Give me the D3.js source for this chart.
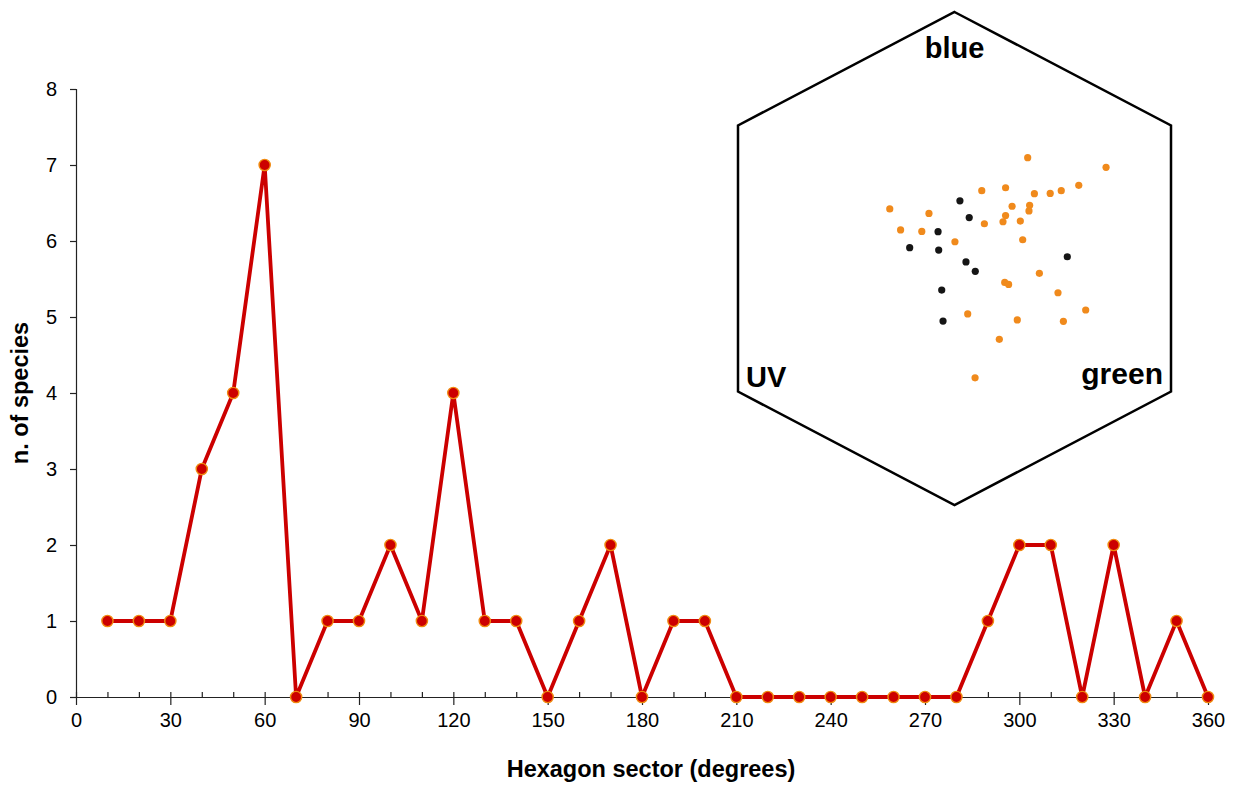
<!DOCTYPE html>
<html><head><meta charset="utf-8">
<script src="https://cdn.jsdelivr.net/npm/d3@7"></script>
<style>html,body{margin:0;padding:0;background:#fff;}svg{display:block;font-family:"Liberation Sans",Arial,sans-serif;}</style>
</head><body>
<svg id="c" width="1234" height="785"></svg>
<script>
// ---- data ----
const sectors = [10,20,30,40,50,60,70,80,90,100,110,120,130,140,150,160,170,180,190,200,210,220,230,240,250,260,270,280,290,300,310,320,330,340,350,360];
const species = [1,1,1,3,4,7,0,1,1,2,1,4,1,1,0,1,2,0,1,1,0,0,0,0,0,0,0,0,1,2,2,0,2,0,1,0];
const xTicks = [0,30,60,90,120,150,180,210,240,270,300,330,360];
const yTicks = [0,1,2,3,4,5,6,7,8];
const xTitle = "Hexagon sector (degrees)";
const yTitle = "n. of species";
// colour hexagon inset (hexagon units)
const hexVertices = [[0,1],[1,0.54],[1,-0.54],[0,-1],[-1,-0.54],[-1,0.54]];
const hexLabels = ["blue","UV","green"];
const orangeX = [0.338,0.700,0.126,0.236,0.369,0.442,0.493,0.574,-0.299,-0.118,0.266,0.347,0.344,0.236,0.224,0.304,0.138,-0.249,-0.151,0.002,0.315,0.392,0.232,0.250,0.478,0.606,0.061,0.290,0.503,0.207,0.095];
const orangeY = [0.409,0.370,0.275,0.287,0.263,0.264,0.275,0.297,0.201,0.183,0.212,0.216,0.193,0.174,0.149,0.152,0.141,0.116,0.110,0.068,0.076,-0.060,-0.097,-0.105,-0.139,-0.209,-0.225,-0.249,-0.255,-0.328,-0.484];
const blackX = [0.025,0.068,-0.076,-0.207,-0.073,0.053,0.096,0.521,-0.059,-0.053];
const blackY = [0.234,0.166,0.109,0.044,0.034,-0.014,-0.052,0.007,-0.128,-0.254];

const svg = d3.select("#c");
const x = d3.scaleLinear().domain([0,360]).range([76,1208]);
const y = d3.scaleLinear().domain([0,8]).range([697,89]);
const axisColor = "#222";

// y axis
const gy = svg.append("g").attr("transform","translate(76,0)")
  .call(d3.axisLeft(y).tickValues(yTicks).tickSize(6).tickPadding(13).tickFormat(d3.format("d")));
gy.select(".domain").attr("stroke",axisColor).attr("stroke-width",1.2);
gy.selectAll(".tick line").attr("stroke",axisColor).attr("stroke-width",1.2);
gy.selectAll("text").attr("font-size",20).attr("fill","#000").attr("font-family","Liberation Sans, Arial, sans-serif");

// x axis: minor ticks (inside), major ticks crossing
const gxMinor = svg.append("g").attr("transform","translate(0,697)")
  .call(d3.axisTop(x).tickValues(sectors.filter(d=>d%30!==0)).tickSize(5).tickFormat(""));
gxMinor.select(".domain").remove();
gxMinor.selectAll(".tick line").attr("stroke",axisColor).attr("stroke-width",1.2);
const gx = svg.append("g").attr("transform","translate(0,697)")
  .call(d3.axisBottom(x).tickValues(xTicks).tickSize(8).tickPadding(8).tickSizeOuter(0));
gx.select(".domain").attr("stroke",axisColor).attr("stroke-width",1.2);
gx.selectAll(".tick line").attr("stroke",axisColor).attr("stroke-width",1.2).attr("y1",-5);
gx.selectAll("text").attr("font-size",20).attr("fill","#000").attr("font-family","Liberation Sans, Arial, sans-serif");

// titles
svg.append("text").attr("x",651).attr("y",777).attr("text-anchor","middle")
  .attr("font-size",23.5).attr("font-weight","bold").text(xTitle);
svg.append("text").attr("transform","translate(28,393) rotate(-90)").attr("text-anchor","middle")
  .attr("font-size",23.5).attr("font-weight","bold").text(yTitle);

// line
const pts = sectors.map((s,i)=>[s,species[i]]);
svg.append("path").datum(pts)
  .attr("fill","none").attr("stroke","#cc0000").attr("stroke-width",3.8).attr("stroke-linejoin","round")
  .attr("d", d3.line().x(d=>x(d[0])).y(d=>y(d[1])));
svg.append("g").selectAll("circle").data(pts).join("circle")
  .attr("cx",d=>x(d[0])).attr("cy",d=>y(d[1])).attr("r",5.6)
  .attr("fill","#cc0000").attr("stroke","#f08a10").attr("stroke-width",1.4);

// hexagon inset
const hx = d3.scaleLinear().domain([-1,1]).range([738,1171]);
const hy = d3.scaleLinear().domain([-1,1]).range([505,12]);
svg.append("path").datum(hexVertices)
  .attr("fill","none").attr("stroke","#000").attr("stroke-width",2.5).attr("stroke-linejoin","miter")
  .attr("d", d3.line().x(d=>hx(d[0])).y(d=>hy(d[1])).curve(d3.curveLinearClosed));
svg.append("text").attr("x",hx(0)).attr("y",58).attr("text-anchor","middle")
  .attr("font-size",29).attr("font-weight","bold").text(hexLabels[0]);
svg.append("text").attr("x",hx(-1)+8).attr("y",387).attr("text-anchor","start")
  .attr("font-size",29).attr("font-weight","bold").text(hexLabels[1]);
svg.append("text").attr("x",hx(1)-8).attr("y",384).attr("text-anchor","end")
  .attr("font-size",30).attr("font-weight","bold").text(hexLabels[2]);

svg.append("g").selectAll("circle").data(orangeX.map((v,i)=>[v,orangeY[i]])).join("circle")
  .attr("cx",d=>hx(d[0])).attr("cy",d=>hy(d[1])).attr("r",3.6).attr("fill","#f08a1c");
svg.append("g").selectAll("circle").data(blackX.map((v,i)=>[v,blackY[i]])).join("circle")
  .attr("cx",d=>hx(d[0])).attr("cy",d=>hy(d[1])).attr("r",3.6).attr("fill","#151515");
</script>
</body></html>
